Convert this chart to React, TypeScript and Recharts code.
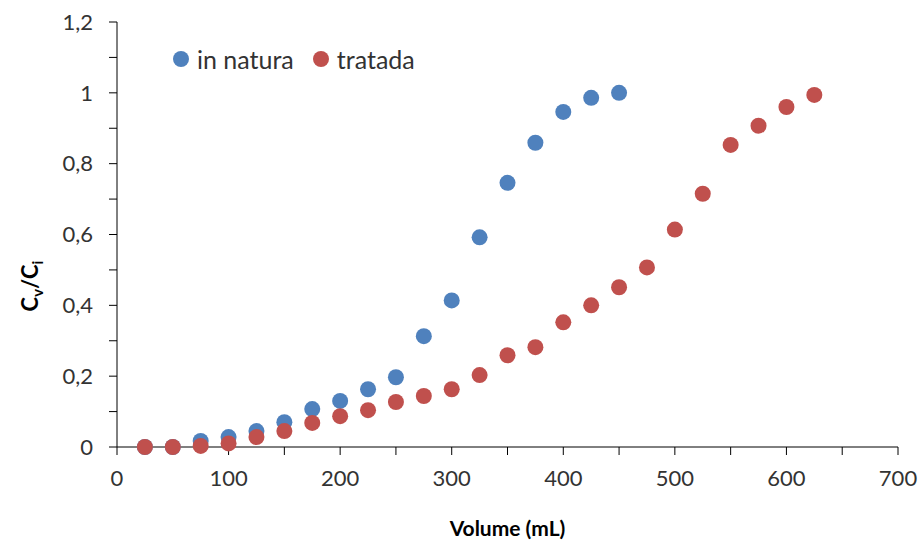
import React from "react";
import { ScatterChart, Scatter, XAxis, YAxis } from "recharts";

// Effluent volume (mL) and relative concentration Cv/Ci for each adsorbent
const inNaturaVolume = [25, 50, 75, 100, 125, 150, 175, 200, 225, 250, 275, 300, 325, 350, 375, 400, 425, 450];
const inNaturaRatio = [0, 0, 0.017, 0.028, 0.045, 0.07, 0.107, 0.13, 0.163, 0.197, 0.313, 0.414, 0.592, 0.746, 0.859, 0.946, 0.986, 1.0];

const tratadaVolume = [25, 50, 75, 100, 125, 150, 175, 200, 225, 250, 275, 300, 325, 350, 375, 400, 425, 450, 475, 500, 525, 550, 575, 600, 625];
const tratadaRatio = [0, 0, 0.003, 0.01, 0.028, 0.045, 0.068, 0.087, 0.104, 0.127, 0.144, 0.163, 0.203, 0.259, 0.282, 0.352, 0.4, 0.451, 0.507, 0.614, 0.715, 0.853, 0.907, 0.96, 0.994];

// Tick marks every 50 mL / 0.1, labels on every other one
const xTicks = [0, 50, 100, 150, 200, 250, 300, 350, 400, 450, 500, 550, 600, 650, 700];
const yTicks = [0, 0.1, 0.2, 0.3, 0.4, 0.5, 0.6, 0.7, 0.8, 0.9, 1, 1.1, 1.2];

const BLUE = "#4F81BD";
const RED = "#C0504D";
const FONT = "Lato, 'Open Sans', sans-serif";
const TEXT = "#333333";

const inNaturaData = inNaturaVolume.map((v, i) => ({ v, c: inNaturaRatio[i] }));
const tratadaData = tratadaVolume.map((v, i) => ({ v, c: tratadaRatio[i] }));

const series = [
  { name: "in natura", color: BLUE },
  { name: "tratada", color: RED },
];

const fmtX = (n: number) => (n % 100 === 0 ? String(n) : "");
const fmtY = (n: number) => {
  const tenths = Math.round(n * 10);
  if (tenths % 2 !== 0) return "";
  return String(tenths / 10).replace(".", ",");
};

const dot = (color: string) => (props: any) => (
  <circle cx={props.cx} cy={props.cy} r={8} fill={color} />
);

const SeriesLegend = () => (
  <div
    style={{
      position: "absolute",
      top: 45,
      left: 173,
      display: "flex",
      alignItems: "center",
      fontFamily: FONT,
      fontSize: 25,
      lineHeight: "28px",
      color: TEXT,
      whiteSpace: "nowrap",
    }}
  >
    {series.map((s) => (
      <div key={s.name} style={{ display: "flex", alignItems: "center", marginRight: 19 }}>
        <svg width={16} height={16} style={{ marginRight: 8 }}>
          <circle cx={8} cy={8} r={8} fill={s.color} />
        </svg>
        <span>{s.name}</span>
      </div>
    ))}
  </div>
);

const YLabel = () => (
  <text
    x={0}
    y={0}
    transform="translate(38, 286) rotate(-90)"
    textAnchor="middle"
    fontFamily={FONT}
    fontWeight="bold"
    fontSize={22}
    fill="#000"
  >
    <tspan>C</tspan>
    <tspan fontSize={15} dy={5}>v</tspan>
    <tspan dy={-5}>/C</tspan>
    <tspan fontSize={15} dy={5}>i</tspan>
  </text>
);

export default function App() {
  return (
    <div style={{ position: "absolute", left: 0, top: 0, width: 922, height: 545, background: "#fff" }}>
      <ScatterChart width={922} height={545} margin={{ top: 22, right: 24, bottom: 0, left: 47 }}>
        <XAxis
          type="number"
          dataKey="v"
          domain={[0, 700]}
          ticks={xTicks}
          interval={0}
          height={98}
          stroke="#000"
          tickSize={8}
          tickMargin={15}
          tickFormatter={fmtX}
          tick={{ fill: TEXT, fontSize: 22, fontFamily: FONT }}
          label={{
            value: "Volume (mL)",
            position: "insideBottom",
            offset: 9,
            fill: "#000",
            fontSize: 21,
            fontWeight: "bold",
            fontFamily: FONT,
          }}
        />
        <YAxis
          type="number"
          dataKey="c"
          domain={[0, 1.2]}
          ticks={yTicks}
          interval={0}
          width={70}
          stroke="#000"
          tickSize={8}
          tickMargin={16}
          tickFormatter={fmtY}
          tick={{ fill: TEXT, fontSize: 22, fontFamily: FONT }}
          label={<YLabel />}
        />
        <Scatter name="in natura" data={inNaturaData} fill={BLUE} shape={dot(BLUE)} isAnimationActive={false} />
        <Scatter name="tratada" data={tratadaData} fill={RED} shape={dot(RED)} isAnimationActive={false} />
      </ScatterChart>
      <SeriesLegend />
    </div>
  );
}
